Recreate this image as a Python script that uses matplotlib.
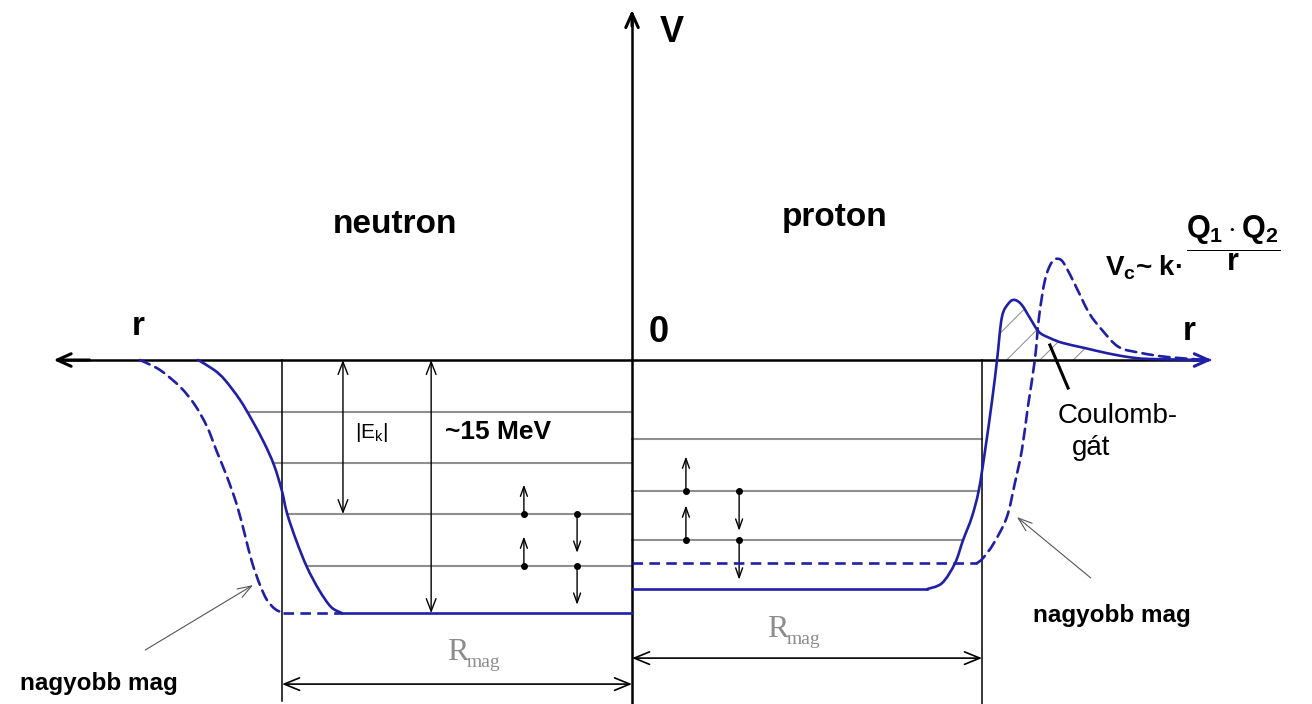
import numpy as np
import matplotlib
matplotlib.use("Agg")
import matplotlib.pyplot as plt
from matplotlib.path import Path
from matplotlib.patches import PathPatch

plt.rcParams['font.family'] = ['Liberation Sans', 'DejaVu Sans']
plt.rcParams['mathtext.fontset'] = 'custom'
plt.rcParams['mathtext.rm'] = 'Liberation Sans:bold'
plt.rcParams['mathtext.it'] = 'Liberation Sans:bold'
plt.rcParams['mathtext.bf'] = 'Liberation Sans:bold'
plt.rcParams['hatch.linewidth'] = 0.7

# r in units of R_mag, V in MeV (neutron side: r measured to the left)
R_MAG = 1.0
V_DEPTH_N = -15.0

# neutron well, solid (nucleus) and dashed (bigger nucleus)
n_r = [1.240, 1.194, 1.163, 1.120, 1.086, 1.051, 1.023, 1.001, 0.986, 0.960, 0.929, 0.894, 0.860, 0.829]
n_v = [0.0, -0.59, -1.19, -2.37, -3.56, -4.92, -6.23, -7.71, -9.07, -10.67, -12.27, -13.64, -14.64, -15.0]
n_big_r = [1.406, 1.349, 1.291, 1.249, 1.214, 1.186, 1.157, 1.129, 1.106, 1.086, 1.063, 1.043, 1.020, 0.997]
n_big_v = [0.0, -0.59, -1.60, -2.67, -3.97, -5.45, -6.94, -8.60, -10.38, -11.98, -13.34, -14.23, -14.76, -15.0]
n_levels = [-3.08, -6.11, -9.13, -12.21]
n_spin_levels = [-9.13, -12.21]

# proton well with Coulomb barrier
p_r = [0.0, 0.843, 0.886, 0.923, 0.946, 0.971, 0.991, 1.009, 1.029, 1.043, 1.057, 1.077, 1.094,
       1.114, 1.137, 1.163, 1.194, 1.231, 1.294, 1.354, 1.417, 1.480, 1.651]
p_v = [-13.58, -13.58, -13.22, -12.04, -10.67, -9.31, -7.71, -5.34, -2.37, 0.0, 2.55, 3.38, 3.56,
       3.26, 2.49, 1.66, 1.30, 1.01, 0.71, 0.42, 0.18, 0.06, 0.0]
p_big_r = [0.0, 0.986, 1.003, 1.034, 1.071, 1.094, 1.114, 1.131, 1.151, 1.163, 1.180, 1.200, 1.220,
           1.237, 1.269, 1.306, 1.343, 1.391, 1.454, 1.529, 1.640]
p_big_v = [-12.04, -12.04, -11.74, -10.85, -9.31, -7.29, -5.34, -2.79, 0.0, 2.55, 4.74, 5.81, 5.99,
           5.63, 4.33, 2.79, 1.78, 0.77, 0.42, 0.18, 0.0]
p_levels = [-4.68, -7.77, -10.67]
p_spin_levels = [-7.77, -10.67]

BLUE = '#1f1fa8'
GRAY = '#8f8f8f'
DASH = (0, (4, 2.4))

fig = plt.figure(figsize=(13.12, 7.04), dpi=100)
ax = fig.add_axes([0, 0, 1, 1])
ax.set_xlim(-1.806, 1.943)
ax.set_ylim(-20.39, 21.34)
ax.axis('off')


def arrow(x0, y0, x1, y1, style='->', lw=1.0, color='black', hl=0.8, hw=0.35):
    ax.annotate('', xy=(x1, y1), xytext=(x0, y0),
                arrowprops=dict(arrowstyle=f'{style},head_length={hl},head_width={hw}',
                                lw=lw, color=color, shrinkA=0, shrinkB=0))


def smooth_curve(xs, ys, **kw):
    # bezier path through the read points (catmull-rom control points)
    pts = np.column_stack([xs, ys])
    n = len(pts)
    verts = [pts[0]]
    codes = [Path.MOVETO]
    for i in range(n - 1):
        p0 = pts[i - 1] if i > 0 else pts[i]
        p3 = pts[i + 2] if i + 2 < n else pts[i + 1]
        verts += [pts[i] + (pts[i + 1] - p0) / 6, pts[i + 1] - (p3 - pts[i]) / 6, pts[i + 1]]
        codes += [Path.CURVE4] * 3
    ax.add_patch(PathPatch(Path(verts, codes), facecolor='none', edgecolor=BLUE,
                           lw=1.9, zorder=4, capstyle='round', **kw))


# energy levels (from the solid wall to the V axis)
n_r_arr = np.array(n_r)
n_v_arr = np.array(n_v)
for lv in n_levels:
    r_wall = np.interp(lv, n_v_arr[::-1], n_r_arr[::-1])
    ax.plot([-r_wall, 0], [lv, lv], color=GRAY, lw=1.5, zorder=1)

p_r_arr = np.array(p_r)
p_v_arr = np.array(p_v)
rise = slice(1, 13)
for lv in p_levels:
    r_wall = min(np.interp(lv, p_v_arr[rise], p_r_arr[rise]), R_MAG)
    ax.plot([0, r_wall], [lv, lv], color=GRAY, lw=1.5, zorder=1)

# R_mag boundaries
ax.plot([-R_MAG, -R_MAG], [0, -20.2], color='black', lw=1.1)
ax.plot([R_MAG, R_MAG], [0, -20.4], color='black', lw=1.1)

# axes
ax.plot([-1.62, 1.64], [0, 0], color='black', lw=1.8, zorder=3)
ax.plot([0, 0], [-20.39, 20.5], color='black', lw=1.8, zorder=3)
arrow(-1.55, 0, -1.653, 0, lw=2.2, hl=1.0, hw=0.45)
arrow(1.60, 0, 1.657, 0, lw=2.2, color=BLUE, hl=1.0, hw=0.45)
arrow(0, 19.8, 0, 20.75, lw=2.2, hl=1.0, hw=0.45)

# potentials
smooth_curve(-n_r_arr, n_v_arr)
ax.plot([-n_r[-1], 0], [V_DEPTH_N, V_DEPTH_N], color=BLUE, lw=1.9, zorder=4)
smooth_curve(-np.array(n_big_r), n_big_v, linestyle=DASH)
ax.plot([-n_big_r[-1], -n_r[-1]], [V_DEPTH_N, V_DEPTH_N], color=BLUE, lw=1.9, ls=DASH, zorder=4)

ax.plot(p_r[:2], p_v[:2], color=BLUE, lw=1.9, zorder=4)
smooth_curve(p_r[1:], p_v[1:])
ax.plot(p_big_r[:2], p_big_v[:2], color=BLUE, lw=1.9, ls=DASH, zorder=4)
smooth_curve(p_big_r[1:], p_big_v[1:], linestyle=DASH)

# Coulomb barrier hatching
mask = (p_r_arr >= 1.043) & (p_r_arr <= 1.38)
ax.fill_between(p_r_arr, p_v_arr, 0, where=mask, facecolor='none',
                edgecolor='#888888', hatch='/', lw=0, zorder=2)

# depth arrows
arrow(-0.826, 0, -0.826, n_levels[2], style='<->', lw=1.0, hl=0.9, hw=0.35)
arrow(-0.574, 0, -0.574, V_DEPTH_N, style='<->', lw=1.0, hl=0.9, hw=0.35)
ax.text(-0.791, -4.27, r'$\mathregular{|E_k|}$', fontsize=15, va='center', ha='left')
ax.text(-0.534, -4.27, '~15 MeV', fontsize=19, fontweight='bold', va='center', ha='left')

# spins
for side, x_up, x_dn, up_len, dn_len, levels in [(-1, 0.309, 0.157, 1.75, 2.3, n_spin_levels),
                                                  (1, 0.154, 0.306, 2.05, 2.35, p_spin_levels)]:
    for lv in levels:
        arrow(side * x_up, lv, side * x_up, lv + up_len, lw=1.0, hl=0.7, hw=0.25)
        arrow(side * x_dn, lv, side * x_dn, lv - dn_len, lw=1.0, hl=0.7, hw=0.25)
        ax.plot([side * x_up, side * x_dn], [lv, lv], 'o', color='black', ms=4, zorder=5)

# R_mag dimensions
arrow(-R_MAG, -19.21, 0, -19.21, style='<->', lw=1.2, hl=1.1, hw=0.45)
arrow(0, -17.67, R_MAG, -17.67, style='<->', lw=1.2, hl=1.1, hw=0.45)
for x_r, y_r in [(-0.529, -17.79), (0.386, -16.42)]:
    ax.text(x_r, y_r, 'R', fontsize=23, color='#8c8c8c', family='Liberation Serif', va='baseline')
    ax.text(x_r + 0.057, y_r - 0.42, 'mag', fontsize=14, color='#8c8c8c', family='Liberation Serif', va='baseline')

# labels
ax.text(-0.854, 7.53, 'neutron', fontsize=24, fontweight='bold', va='baseline')
ax.text(0.429, 7.94, 'proton', fontsize=24, fontweight='bold', va='baseline')
ax.text(0.046, 1.07, '0', fontsize=26, fontweight='bold', va='baseline')
ax.text(-1.429, 1.48, 'r', fontsize=24, fontweight='bold', va='baseline')
ax.text(1.574, 1.19, 'r', fontsize=24, fontweight='bold', va='baseline')
ax.text(0.08, 18.85, 'V', fontsize=26, fontweight='bold', va='baseline')

# Coulomb formula
ax.text(1.573, 5.0, r'$V_c$~ k·', fontsize=20, fontweight='bold', va='baseline', ha='right')
ax.text(1.583, 6.95, r'$\dfrac{Q_1\cdot Q_2}{r}$', fontsize=22, va='center', ha='left')

ax.text(1.217, -3.32, 'Coulomb-', fontsize=20, va='center')
ax.text(1.257, -5.22, 'gát', fontsize=20, va='center')
ax.plot([1.194, 1.246], [0.89, -1.66], color='black', lw=2.2, zorder=5)

ax.text(-1.749, -19.15, 'nagyobb mag', fontsize=17.5, fontweight='bold', va='center')
ax.text(1.146, -15.12, 'nagyobb mag', fontsize=17.5, fontweight='bold', va='center')
arrow(-1.391, -17.19, -1.083, -13.34, lw=0.8, color='#555555', hl=1.0, hw=0.35)
arrow(1.311, -12.92, 1.1, -9.31, lw=0.8, color='#555555', hl=1.0, hw=0.35)

fig.savefig('out.png', dpi=100)
